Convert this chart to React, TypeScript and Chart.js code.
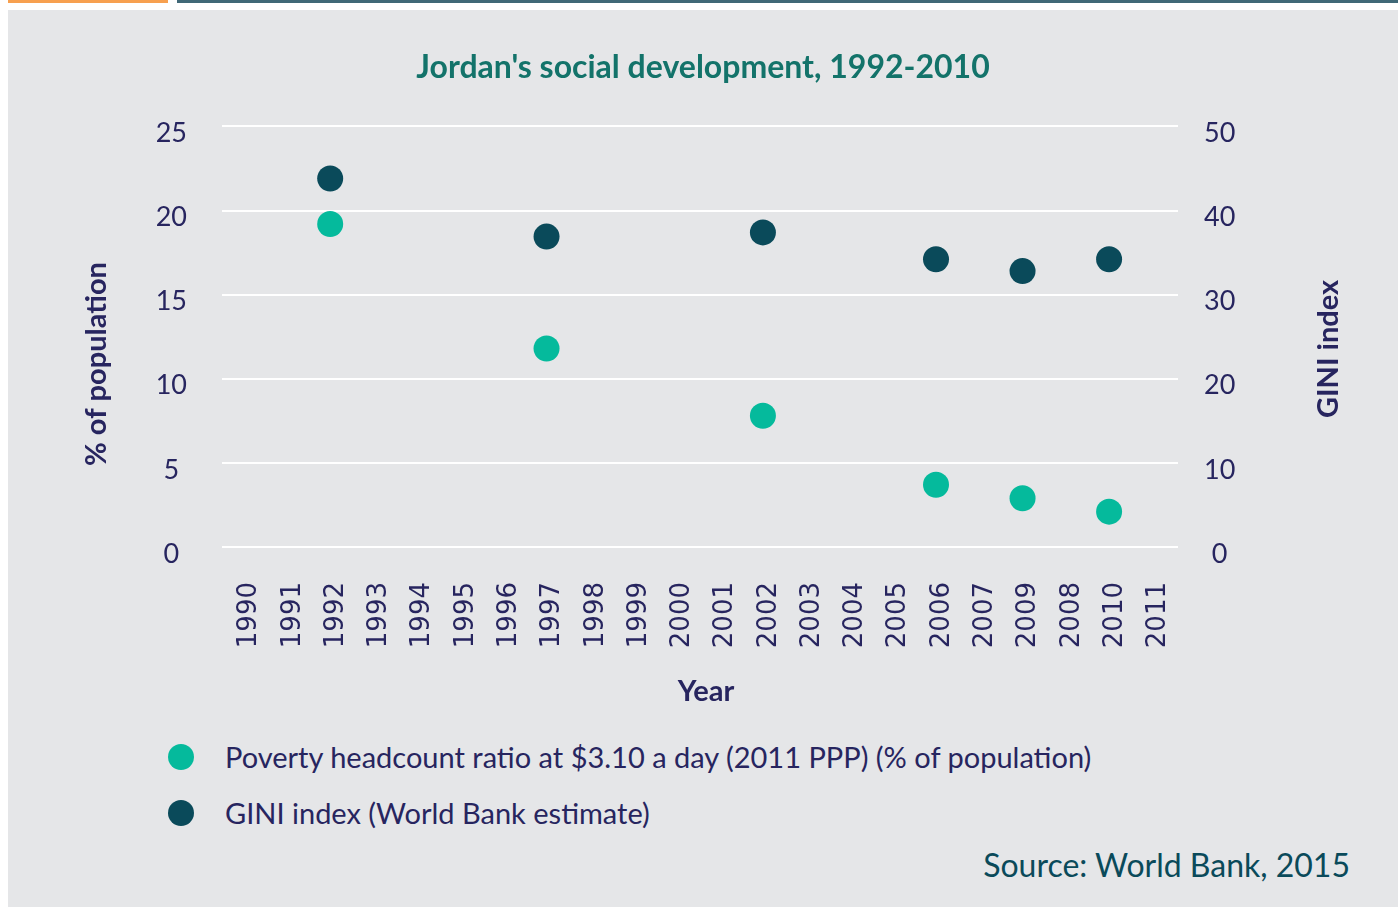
import React, { useEffect, useRef } from "react";
import { Chart, registerables } from "chart.js";

Chart.register(...registerables);

const years = [
  "1990", "1991", "1992", "1993", "1994", "1995", "1996", "1997", "1998", "1999", "2000",
  "2001", "2002", "2003", "2004", "2005", "2006", "2007", "2009", "2008", "2010", "2011",
];

const povertyValues = [
  null, null, 19.2, null, null, null, null, 11.8, null, null, null,
  null, 7.8, null, null, null, 3.7, null, 2.9, null, 2.1, null,
];

const giniValues = [
  null, null, 43.8, null, null, null, null, 36.9, null, null, null,
  null, 37.4, null, null, null, 34.2, null, 32.8, null, 34.2, null,
];

const povertyLabel = "Poverty headcount ratio at $3.10 a day (2011 PPP) (% of population)";
const giniLabel = "GINI index (World Bank estimate)";
const chartTitle = "Jordan's social development, 1992-2010";
const leftTitle = "% of population";
const rightTitle = "GINI index";
const xTitle = "Year";
const sourceText = "Source: World Bank, 2015";

const POV = "#05BA9C";
const GINI = "#0A4A5A";
const NAVY = "#27255F";
const TITLE = "#13736A";
const BG = "#E5E6E8";
const FONT = "Lato, 'Open Sans', sans-serif";

const gridPlugin = {
  id: "extendedGrid",
  beforeDatasetsDraw(chart: any) {
    const ctx = chart.ctx;
    const y = chart.scales.y;
    const area = chart.chartArea;
    ctx.save();
    ctx.strokeStyle = "#FFFFFF";
    ctx.lineWidth = 2;
    y.ticks.forEach((t: any) => {
      const py = Math.round(y.getPixelForValue(t.value));
      ctx.beginPath();
      ctx.moveTo(area.left, py);
      ctx.lineTo(area.right + 4, py);
      ctx.stroke();
    });
    ctx.restore();
  },
};

const axisTitlesPlugin = {
  id: "axisTitles",
  afterDraw(chart: any) {
    const ctx = chart.ctx;
    const draw = (text: string, x: number, y: number, rot: number) => {
      ctx.save();
      ctx.fillStyle = NAVY;
      ctx.font = `bold 29px ${FONT}`;
      ctx.textAlign = "center";
      ctx.textBaseline = "middle";
      ctx.translate(x, y);
      ctx.rotate(rot);
      ctx.fillText(text, 0, 0);
      ctx.restore();
    };
    draw(leftTitle, 89, 354, -Math.PI / 2);
    draw(rightTitle, 1321, 339, -Math.PI / 2);
    draw(xTitle, 698, 682, 0);
  },
};

export default function App() {
  const ref = useRef<HTMLCanvasElement>(null);

  useEffect(() => {
    const chart = new Chart(ref.current as HTMLCanvasElement, {
      type: "line",
      data: {
        labels: years,
        datasets: [
          {
            label: povertyLabel,
            data: povertyValues as any,
            yAxisID: "y",
            showLine: false,
            pointRadius: 13,
            pointHoverRadius: 13,
            pointBorderWidth: 0,
            pointBackgroundColor: POV,
            backgroundColor: POV,
            borderColor: POV,
          },
          {
            label: giniLabel,
            data: giniValues as any,
            yAxisID: "y1",
            showLine: false,
            pointRadius: 13,
            pointHoverRadius: 13,
            pointBorderWidth: 0,
            pointBackgroundColor: GINI,
            backgroundColor: GINI,
            borderColor: GINI,
          },
        ],
      },
      options: {
        responsive: false,
        animation: false,
        layout: { padding: 0 },
        font: { family: FONT } as any,
        plugins: {
          legend: { display: false },
          tooltip: { enabled: false },
          title: {
            display: true,
            text: chartTitle,
            color: TITLE,
            font: { family: FONT, size: 32, weight: "bold" },
            padding: { top: 38, bottom: 40 },
          },
        },
        scales: {
          x: {
            offset: true,
            grid: { display: false, drawTicks: false },
            border: { display: false },
            ticks: {
              minRotation: 90,
              maxRotation: 90,
              autoSkip: false,
              padding: 35,
              labelOffset: 6,
              color: NAVY,
              font: { family: "'DejaVu Sans', sans-serif", size: 26 },
            },
            afterFit: (s: any) => {
              s.height = 170;
            },
          },
          y: {
            position: "left",
            min: 0,
            max: 25,
            ticks: {
              stepSize: 5,
              padding: 35,
              labelOffset: 7,
              crossAlign: "center",
              color: NAVY,
              font: { family: FONT, size: 27 },
            },
            grid: { display: false, drawTicks: false },
            border: { display: false },
            afterFit: (s: any) => {
              s.width = 214;
            },
          },
          y1: {
            position: "right",
            min: 0,
            max: 50,
            ticks: {
              stepSize: 10,
              padding: 30,
              labelOffset: 7,
              crossAlign: "center",
              color: NAVY,
              font: { family: FONT, size: 27 },
            },
            grid: { display: false, drawTicks: false },
            border: { display: false },
            afterFit: (s: any) => {
              s.width = 224;
            },
          },
        },
      },
      plugins: [gridPlugin, axisTitlesPlugin],
    });
    return () => chart.destroy();
  }, []);

  const legendItems = [
    { label: povertyLabel, color: POV, y: 757 },
    { label: giniLabel, color: GINI, y: 813 },
  ];

  return (
    <div style={{ position: "absolute", left: 0, top: 0, width: 1398, height: 907, overflow: "hidden", background: "#FFFFFF", fontFamily: FONT }}>
      <div style={{ position: "absolute", left: 8, top: 0, width: 160, height: 3, background: "#F7A04F" }} />
      <div style={{ position: "absolute", left: 177, top: 0, width: 1221, height: 3, background: "#406877" }} />
      <div style={{ position: "absolute", left: 8, top: 10, width: 1390, height: 897, background: BG }}>
        <canvas ref={ref} width={1390} height={707} style={{ position: "absolute", left: 0, top: 0, width: 1390, height: 707 }} />
      </div>
      {legendItems.map((it) => (
        <div key={it.label}>
          <div style={{ position: "absolute", left: 168, top: it.y - 13, width: 26, height: 26, borderRadius: 13, background: it.color }} />
          <div style={{ position: "absolute", left: 225, top: it.y - 20, height: 40, lineHeight: "40px", fontSize: 29, color: NAVY, whiteSpace: "nowrap" }}>
            {it.label}
          </div>
        </div>
      ))}
      <div style={{ position: "absolute", right: 48, top: 845, height: 40, lineHeight: "40px", fontSize: 32, color: GINI, whiteSpace: "nowrap" }}>
        {sourceText}
      </div>
    </div>
  );
}
